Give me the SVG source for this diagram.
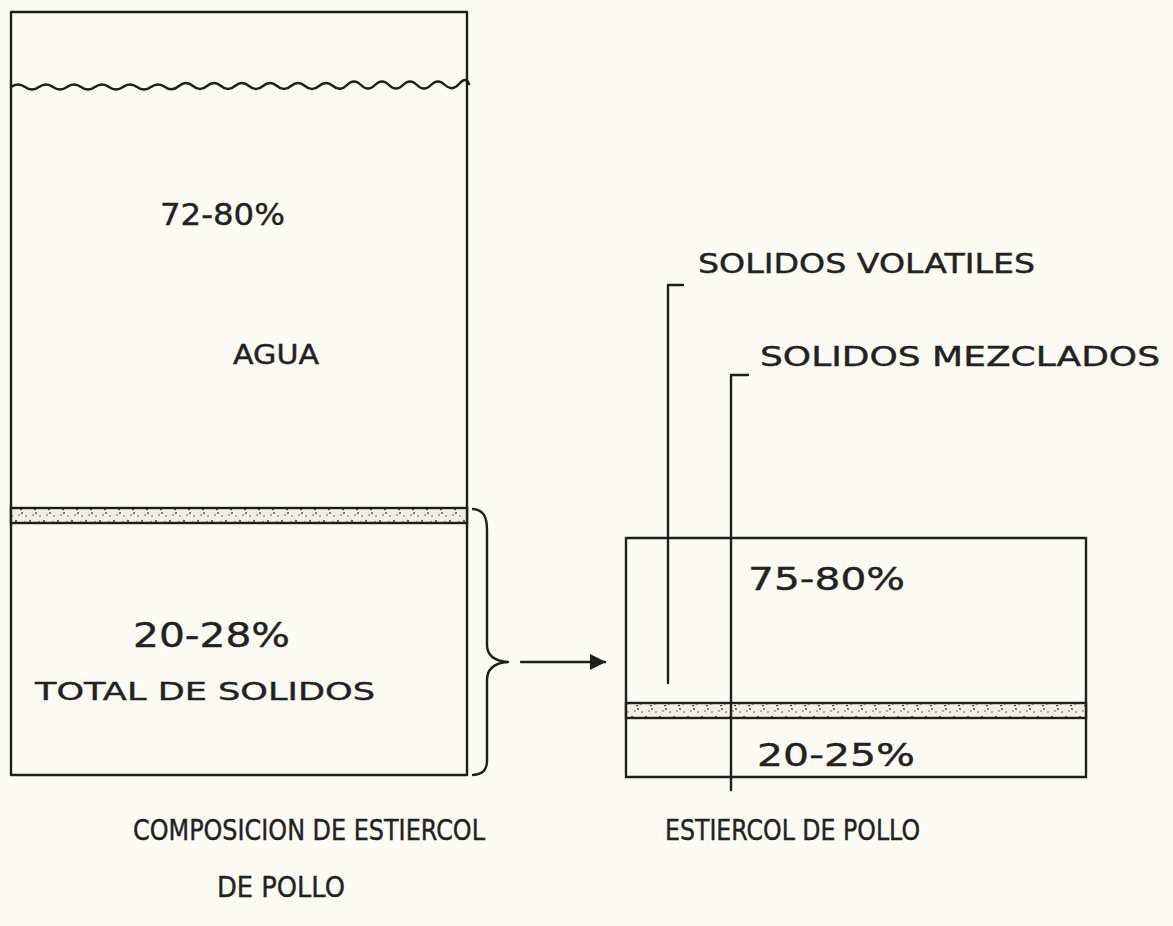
<svg xmlns="http://www.w3.org/2000/svg" width="1173" height="926" viewBox="0 0 1173 926">
<defs>
<style>
.ln{fill:none;stroke:#1e1e1e;stroke-width:2.4;stroke-linecap:round;stroke-linejoin:round}
.band{fill:url(#stip);stroke:#1e1e1e;stroke-width:2.4}
.t{font-family:"DejaVu Sans","Liberation Sans",sans-serif;fill:#222;stroke:#222;stroke-width:0.4}
</style>
<pattern id="stip" width="14" height="14" patternUnits="userSpaceOnUse">
<rect width="14" height="14" fill="#f1efe5"/>
<circle cx="2" cy="3" r="1" fill="#333"/>
<circle cx="8" cy="9" r="0.9" fill="#444"/>
<circle cx="11" cy="4" r="0.8" fill="#333"/>
<circle cx="5" cy="11" r="0.8" fill="#555"/>
<rect x="6" y="5" width="2" height="1.2" fill="#444"/>
<circle cx="12" cy="12" r="0.7" fill="#333"/>
</pattern>
<marker id="ah" markerWidth="16" markerHeight="16" refX="15" refY="8" orient="auto" markerUnits="userSpaceOnUse">
<path d="M0,0 L16,8 L0,16 Z" fill="#1e1e1e"/>
</marker>
</defs>
<rect width="1173" height="926" fill="#fbfaf3"/>

<g id="left-container">
<rect x="11" y="12" width="456" height="763" class="ln"/>
<path class="ln" d="M11,87 q7,-5 14,0 t14,0 t14,0 t14,0 t14,0 t14,0 t14,0 t14,0 t14,0 t14,0 t14,0 t14,-1 t14,0 t14,0 t14,0 t14,0 t14,0 t14,0 t14,0 t14,0 t14,0 t14,0 t14,0 t14,-1 t14,0 t14,0 t14,0 t14,0 t14,0 t14,0 t14,0 t14,-1 t10,0"/>
<rect x="11" y="508" width="456" height="15" class="band"/>
</g>

<g id="agua">
<text class="t" x="160" y="225" font-size="30" textLength="125" lengthAdjust="spacingAndGlyphs">72-80%</text>
<text class="t" x="233" y="364" font-size="26" textLength="86" lengthAdjust="spacingAndGlyphs">AGUA</text>
</g>

<g id="total-solidos">
<text class="t" x="133" y="647" font-size="34" textLength="157" lengthAdjust="spacingAndGlyphs">20-28%</text>
<text class="t" x="35" y="700" font-size="25" textLength="340" lengthAdjust="spacingAndGlyphs">TOTAL DE SOLIDOS</text>
</g>

<g id="right-container">
<rect x="626" y="538" width="460" height="239" class="ln"/>
<rect x="626" y="703" width="460" height="15" class="band"/>
<text class="t" x="748" y="590" font-size="32" textLength="157" lengthAdjust="spacingAndGlyphs">75-80%</text>
<text class="t" x="757" y="766" font-size="32" textLength="158" lengthAdjust="spacingAndGlyphs">20-25%</text>
</g>

<g id="solidos-volatiles">
<text class="t" x="698" y="273" font-size="26" textLength="337" lengthAdjust="spacingAndGlyphs">SOLIDOS VOLATILES</text>
</g>

<g id="solidos-mezclados">
<text class="t" x="760" y="366" font-size="26" textLength="400" lengthAdjust="spacingAndGlyphs">SOLIDOS MEZCLADOS</text>
</g>

<g id="connectors">
<path class="ln" d="M473,509 C483,510 487,516 487,530 L487,645 C487,656 495,661 508,662 C495,663 487,668 487,680 L487,760 C487,770 483,774 473,775"/>
<line class="ln" x1="521" y1="662" x2="605" y2="662" marker-end="url(#ah)"/>
<polyline class="ln" points="683,285 668,285 668,683"/>
<polyline class="ln" points="748,375 731,375 731,790"/>
</g>

<g id="captions">
<text class="t" x="133" y="840" font-size="28" textLength="352" lengthAdjust="spacingAndGlyphs">COMPOSICION DE ESTIERCOL</text>
<text class="t" x="217" y="897" font-size="28" textLength="128" lengthAdjust="spacingAndGlyphs">DE POLLO</text>
<text class="t" x="665" y="840" font-size="28" textLength="255" lengthAdjust="spacingAndGlyphs">ESTIERCOL DE POLLO</text>
</g>
</svg>
